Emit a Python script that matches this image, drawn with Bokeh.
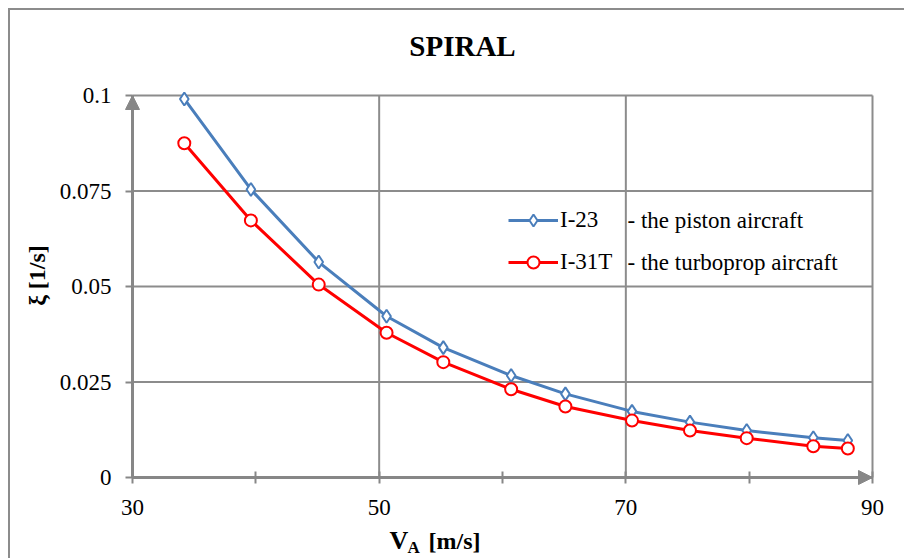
import math
from bokeh.plotting import figure
from bokeh.models import (Range1d, FixedTicker, CustomJSTickFormatter, Label, Legend,
                          LegendItem, Arrow, NormalHead, ColumnDataSource)
from bokeh.embed import file_html
from bokeh.resources import INLINE

# ---- data ----
V = [34.2, 39.6, 45.1, 50.6, 55.2, 60.7, 65.1, 70.5, 75.2, 79.8, 85.2, 88.0]
xi_I23 = [0.0991, 0.0754, 0.0564, 0.0422, 0.0340, 0.0267, 0.0219, 0.0173, 0.0145, 0.0123, 0.0104, 0.0097]
xi_I31T = [0.0875, 0.0673, 0.0505, 0.0379, 0.0302, 0.0231, 0.0186, 0.0149, 0.0123, 0.0103, 0.0082, 0.0076]
series_names = ["I-23", "I-31T"]
series_desc = ["- the piston aircraft", "- the turboprop aircraft"]
x_ticks = [30, 50, 70, 90]
x_minor = [40, 60, 80]
y_ticks = [0, 0.025, 0.05, 0.075, 0.1]
title_text = "SPIRAL"
y_title = "ξ  [1/s]"
x_title = ["V", "A", "[m/s]"]

SERIF = "Liberation Serif"
GRAY = "#878787"
GRID = "#8c8c8c"
BLUE = "#4a7ebb"
RED = "#ff0000"

# canvas geometry (pixels)
W, H = 896, 550
FL, FR, FT, FB = 122, 862, 85, 467          # where the data box sits inside the canvas
xmin, xmax = x_ticks[0], x_ticks[-1]
ymin, ymax = y_ticks[0], y_ticks[-1]
kx = (FR - FL) / (xmax - xmin)
ky = (FB - FT) / (ymax - ymin)
x_range = Range1d(xmin - FL / kx, xmax + (W - FR) / kx)
y_range = Range1d(ymin - (H - FB) / ky, ymax + FT / ky)

p = figure(width=W, height=H, output_backend="svg", toolbar_location=None,
           x_range=x_range, y_range=y_range,
           min_border=0, min_border_left=0, min_border_right=0,
           min_border_top=0, min_border_bottom=0,
           background_fill_color="white", border_fill_color="white",
           margin=(8, 0, 0, 8),
           styles={"border-left": "2px solid #8c8c8c", "border-top": "2px solid #8c8c8c"})
p.outline_line_color = None
p.grid.visible = False

# axes, pinned at x=30 and y=0
p.xaxis.fixed_location = ymin
p.yaxis.fixed_location = xmin
p.xaxis.bounds = (xmin, xmax)
p.yaxis.bounds = (ymin, ymax)
p.xaxis.ticker = FixedTicker(ticks=x_ticks, minor_ticks=x_minor)
p.yaxis.ticker = FixedTicker(ticks=y_ticks, minor_ticks=[])
p.yaxis.formatter = CustomJSTickFormatter(code="return String(Math.round(tick*1000)/1000);")
for ax in (p.xaxis[0], p.yaxis[0]):
    ax.axis_line_color = GRAY
    ax.axis_line_width = 3
    ax.major_tick_line_color = GRAY
    ax.major_tick_line_width = 2
    ax.minor_tick_line_color = GRAY
    ax.minor_tick_line_width = 2
    ax.major_label_text_font = SERIF
    ax.major_label_text_font_size = "23px"
    ax.major_label_text_color = "black"
p.xaxis.major_tick_in = 6
p.xaxis.major_tick_out = 6
p.xaxis.minor_tick_in = 6
p.xaxis.minor_tick_out = 6
p.xaxis.major_label_standoff = 16
p.yaxis.major_tick_in = 0
p.yaxis.major_tick_out = 7
p.yaxis.minor_tick_in = 0
p.yaxis.minor_tick_out = 0
p.yaxis.major_label_standoff = 14

# grid lines drawn from the tick lists, inside the data box only
gx = [t for t in x_ticks if t != xmin]
gy = [t for t in y_ticks if t != ymin]
p.segment(x0=gx, y0=[ymin] * len(gx), x1=gx, y1=[ymax] * len(gx),
          line_color=GRID, line_width=2, level="underlay")
p.segment(x0=[xmin] * len(gy), y0=gy, x1=[xmax] * len(gy), y1=gy,
          line_color=GRID, line_width=2, level="underlay")

# axis arrow heads
p.add_layout(Arrow(end=NormalHead(size=14, fill_color=GRAY, line_color=GRAY),
                   x_start=xmin, y_start=ymin, x_end=xmin, y_end=ymax, line_color=GRAY, line_width=3))
p.add_layout(Arrow(end=NormalHead(size=14, fill_color=GRAY, line_color=GRAY),
                   x_start=xmin, y_start=ymin, x_end=xmax, y_end=ymin, line_color=GRAY, line_width=3))

# series
src_b = ColumnDataSource(dict(x=V, y=xi_I23))
src_r = ColumnDataSource(dict(x=V, y=xi_I31T))
lb = p.line("x", "y", source=src_b, line_color=BLUE, line_width=3)
sb = p.scatter("x", "y", source=src_b, marker="diamond", size=13,
               line_color=BLUE, line_width=2, fill_color="white")
lr = p.line("x", "y", source=src_r, line_color=RED, line_width=3)
sr = p.scatter("x", "y", source=src_r, marker="circle", size=12,
               line_color=RED, line_width=2, fill_color="white")

legend = Legend(items=[LegendItem(label=series_names[0], renderers=[lb, sb]),
                       LegendItem(label=series_names[1], renderers=[lr, sr])],
                location=(498, H - 267), orientation="vertical",
                glyph_width=50, glyph_height=30, label_height=30, label_standoff=2,
                spacing=12, padding=0, margin=0, border_line_color=None,
                background_fill_alpha=0,
                label_text_font=SERIF, label_text_font_size="23px", label_text_color="black")
p.add_layout(legend)

def txt(x, y, text, size, bold=False, align="left", angle=0.0):
    # x, y: canvas pixels measured from the top-left corner; text centred vertically on y
    p.add_layout(Label(x=x, y=H - y, x_units="screen", y_units="screen", text=text,
                       text_font=SERIF, text_font_size=size,
                       text_font_style="bold" if bold else "normal",
                       text_align=align, text_baseline="middle", angle=angle,
                       text_color="black"))

# legend descriptions
for i, desc in enumerate(series_desc):
    txt(617, 210 + 42 * i, desc, "23px")

# chart title
txt(452, 35.5, title_text, "29px", bold=True, align="center")

# y axis title (rotated)
txt(26, 262, y_title, "24px", bold=True, align="center", angle=math.pi / 2)

# x axis title: V with subscript A
txt(379, 530, x_title[0], "26px", bold=True)
txt(397, 537, x_title[1], "17px", bold=True)
txt(418, 530, x_title[2], "24px", bold=True)

open("out.html", "w").write(file_html(p, INLINE))
